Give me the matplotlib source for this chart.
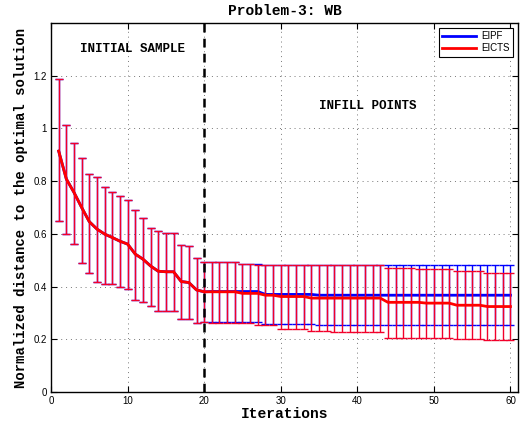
import numpy as np
import matplotlib
matplotlib.use("Agg")
import matplotlib.pyplot as plt
from matplotlib.lines import Line2D

iters = np.arange(1, 61)

init_mean = [0.914, 0.808, 0.757, 0.700, 0.646, 0.618, 0.599, 0.586, 0.572, 0.561,
             0.523, 0.504, 0.478, 0.458, 0.456, 0.456, 0.419, 0.415, 0.387, 0.380]
init_upper = [1.188, 1.013, 0.945, 0.889, 0.828, 0.816, 0.779, 0.759, 0.743, 0.727,
              0.689, 0.661, 0.623, 0.610, 0.604, 0.604, 0.558, 0.554, 0.510, 0.494]
init_lower = [0.648, 0.601, 0.560, 0.490, 0.453, 0.419, 0.411, 0.410, 0.397, 0.391,
              0.349, 0.341, 0.326, 0.306, 0.306, 0.306, 0.278, 0.278, 0.262, 0.265]

# EICTS (iterations 21-60)
eicts_mean_infill = [0.380]*4 + [0.374]*3 + [0.367]*2 + [0.362]*4 + [0.356]*10 + \
                    [0.340]*5 + [0.337]*4 + [0.329]*4 + [0.324]*4
eicts_upper_infill = [0.494]*4 + [0.486]*2 + [0.480]*17 + [0.471]*4 + [0.465]*5 + \
                     [0.457]*4 + [0.452]*4
eicts_lower_infill = [0.263] + [0.262]*5 + [0.253]*3 + [0.238]*4 + [0.230]*3 + \
                     [0.226]*7 + [0.206]*9 + [0.202]*4 + [0.197]*4

# EIPF (iterations 21-60)
eipf_mean_infill = [0.381]*7 + [0.370]*7 + [0.367]*26
eipf_upper_infill = [0.494]*4 + [0.486]*3 + [0.482]*33
eipf_lower_infill = [0.265]*7 + [0.259]*7 + [0.255]*26

eicts_mean = np.array(init_mean + eicts_mean_infill)
eicts_upper = np.array(init_upper + eicts_upper_infill)
eicts_lower = np.array(init_lower + eicts_lower_infill)
eipf_mean = np.array(init_mean + eipf_mean_infill)
eipf_upper = np.array(init_upper + eipf_upper_infill)
eipf_lower = np.array(init_lower + eipf_lower_infill)

mono = ['Liberation Mono', 'DejaVu Sans Mono']
sans = ['Liberation Sans', 'DejaVu Sans']

fig = plt.figure(figsize=(5.26, 4.26), dpi=100)
ax = fig.add_axes([0.097, 0.080, 0.888, 0.866])

ax.errorbar(iters, eipf_mean, yerr=[eipf_mean - eipf_lower, eipf_upper - eipf_mean],
            color='#0000ff', lw=2.0, elinewidth=1.0, capsize=2.6, capthick=1.0, zorder=3)
ax.errorbar(iters, eicts_mean, yerr=[eicts_mean - eicts_lower, eicts_upper - eicts_mean],
            color='#ff0000', ecolor='#f2002a', lw=2.0, elinewidth=1.0, capsize=2.6,
            capthick=1.0, zorder=4)

ax.axvline(20, color='black', lw=1.8, ls=(0, (3.5, 2.5)), zorder=5)

ax.text(10.7, 1.30, 'INITIAL SAMPLE', family=mono, fontweight='bold', fontsize=9,
        ha='center', va='center')
ax.text(41.4, 1.086, 'INFILL POINTS', family=mono, fontweight='bold', fontsize=9,
        ha='center', va='center')

ax.set_xlim(0, 61)
ax.set_ylim(0, 1.4)
ax.set_xticks(np.arange(0, 61, 10))
ax.set_yticks([0, 0.2, 0.4, 0.6, 0.8, 1.0, 1.2])
ax.set_yticklabels(['0', '0.2', '0.4', '0.6', '0.8', '1', '1.2'])
for lab in ax.get_xticklabels() + ax.get_yticklabels():
    lab.set_family(sans)
    lab.set_fontsize(7)
ax.tick_params(direction='in', length=4, width=0.8, top=True, right=True, pad=3)
ax.grid(True, ls=(0, (1, 4)), color='#777777', lw=0.7)
for s in ax.spines.values():
    s.set_linewidth(1.0)

ax.set_title('Problem-3: WB', family=mono, fontweight='bold', fontsize=10.5, pad=6)
ax.set_xlabel('Iterations', family=mono, fontweight='bold', fontsize=10.5, labelpad=1)
ax.set_ylabel('Normalized distance to the optimal solution', family=mono,
              fontweight='bold', fontsize=10, labelpad=4)

handles = [Line2D([0], [0], color='#0000ff', lw=2), Line2D([0], [0], color='#ff0000', lw=2)]
leg = ax.legend(handles, ['EIPF', 'EICTS'], loc='upper right',
                prop={'family': sans, 'size': 7}, fancybox=False, framealpha=1,
                edgecolor='black', borderaxespad=0.5, handlelength=3.5,
                borderpad=0.35, labelspacing=0.2, handletextpad=0.5)
leg.get_frame().set_linewidth(0.8)

fig.savefig('out.png', dpi=100)
